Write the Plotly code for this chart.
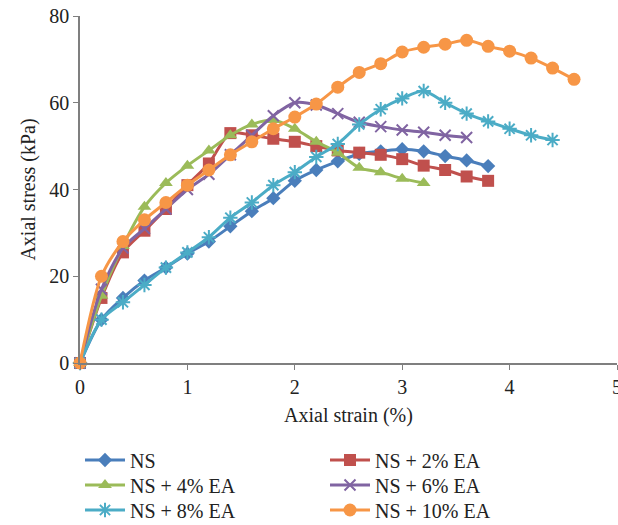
import plotly.graph_objects as go

strain_ns = [0, 0.2, 0.4, 0.6, 0.8, 1.0, 1.2, 1.4, 1.6, 1.8, 2.0, 2.2, 2.4, 2.6, 2.8, 3.0, 3.2, 3.4, 3.6, 3.8]
stress_ns = [0, 10, 15, 19, 22, 25.2, 28, 31.5, 35, 38, 42, 44.5, 46.5, 48.2, 48.8, 49.3, 48.8, 47.7, 46.7, 45.4]

strain_2 = [0, 0.2, 0.4, 0.6, 0.8, 1.0, 1.2, 1.4, 1.6, 1.8, 2.0, 2.2, 2.4, 2.6, 2.8, 3.0, 3.2, 3.4, 3.6, 3.8]
stress_2 = [0, 15, 25.5, 30.5, 35.5, 41, 46, 53, 52.5, 51.7, 51, 50, 49, 48.5, 48, 47, 45.5, 44.5, 43, 42]

strain_4 = [0, 0.2, 0.4, 0.6, 0.8, 1.0, 1.2, 1.4, 1.6, 1.8, 2.0, 2.2, 2.4, 2.6, 2.8, 3.0, 3.2]
stress_4 = [0, 15.5, 27, 36, 41.5, 45.5, 49, 52.5, 55, 56, 54, 51, 48.5, 45, 44, 42.5, 41.5]

strain_6 = [0, 0.2, 0.4, 0.6, 0.8, 1.0, 1.2, 1.4, 1.6, 1.8, 2.0, 2.2, 2.4, 2.6, 2.8, 3.0, 3.2, 3.4, 3.6]
stress_6 = [0, 17, 26.5, 31, 35.5, 40, 43.5, 48, 52.5, 57, 60, 59.5, 57.5, 55.5, 54.5, 53.7, 53.2, 52.5, 52]

strain_8 = [0, 0.2, 0.4, 0.6, 0.8, 1.0, 1.2, 1.4, 1.6, 1.8, 2.0, 2.2, 2.4, 2.6, 2.8, 3.0, 3.2, 3.4, 3.6, 3.8, 4.0, 4.2, 4.4]
stress_8 = [0, 10, 14, 18, 22, 25.5, 29, 33.5, 37, 41, 44, 47.5, 50.5, 55, 58.5, 61, 62.7, 60, 57.5, 55.7, 54, 52.5, 51.4]

strain_10 = [0, 0.2, 0.4, 0.6, 0.8, 1.0, 1.2, 1.4, 1.6, 1.8, 2.0, 2.2, 2.4, 2.6, 2.8, 3.0, 3.2, 3.4, 3.6, 3.8, 4.0, 4.2, 4.4, 4.6]
stress_10 = [0, 20, 28, 33, 37, 41, 44.5, 48, 51, 54, 56.7, 59.7, 63.6, 67, 69, 71.7, 72.8, 73.5, 74.4, 73, 71.9, 70.3, 68, 65.4]

names = ["NS", "NS + 2% EA", "NS + 4% EA", "NS + 6% EA", "NS + 8% EA", "NS + 10% EA"]
colors = ["#4A7EBB", "#C0504D", "#9BBB59", "#8064A2", "#4BACC6", "#F79646"]
symbols = ["diamond", "square", "triangle-up", "x-thin", "asterisk", "circle"]
sizes = [11, 12, 12, 11, 12, 13]
legend_ids = ["legend", "legend", "legend2", "legend2", "legend3", "legend3"]
xs = [strain_ns, strain_2, strain_4, strain_6, strain_8, strain_10]
ys = [stress_ns, stress_2, stress_4, stress_6, stress_8, stress_10]

fig = go.Figure()
for n, c, s, sz, lg, x, y in zip(names, colors, symbols, sizes, legend_ids, xs, ys):
    open_sym = s in ("x-thin", "asterisk")
    fig.add_trace(go.Scatter(
        x=x, y=y, name=n, mode="lines+markers", legend=lg,
        line=dict(color=c, width=3, shape="spline", smoothing=0.8),
        marker=dict(symbol=s, size=sz, color=c,
                    line=dict(color=c, width=2 if open_sym else 0)),
        cliponaxis=False,
    ))

font_family = "Liberation Serif"


def leg(yv):
    return dict(orientation="h", x=0.0, xanchor="left", y=yv, yanchor="middle",
                entrywidth=190, entrywidthmode="pixels",
                font=dict(size=20), itemwidth=40, bgcolor="rgba(0,0,0,0)")


fig.update_layout(
    width=618, height=525,
    margin=dict(l=80, r=1, t=16, b=162, autoexpand=False),
    paper_bgcolor="white", plot_bgcolor="white",
    font=dict(family=font_family, size=20, color="#222222"),
    xaxis=dict(range=[0, 5], dtick=1, showgrid=False, zeroline=False,
               showline=True, linecolor="#7f7f7f", linewidth=1.5,
               ticks="outside", ticklen=5, tickcolor="#7f7f7f",
               ticklabeloverflow="allow",
               title=dict(text="Axial strain (%)", font=dict(size=20), standoff=11)),
    yaxis=dict(range=[0, 80], dtick=20, showgrid=False, zeroline=False,
               showline=True, linecolor="#7f7f7f", linewidth=1.5,
               ticks="outside", ticklen=5, tickcolor="#7f7f7f",
               title=dict(text="Axial stress (kPa)", font=dict(size=20), standoff=8)),
    legend=leg(-0.2795),
    legend2=leg(-0.3516),
    legend3=leg(-0.4236),
)

fig.write_html("out.html")
